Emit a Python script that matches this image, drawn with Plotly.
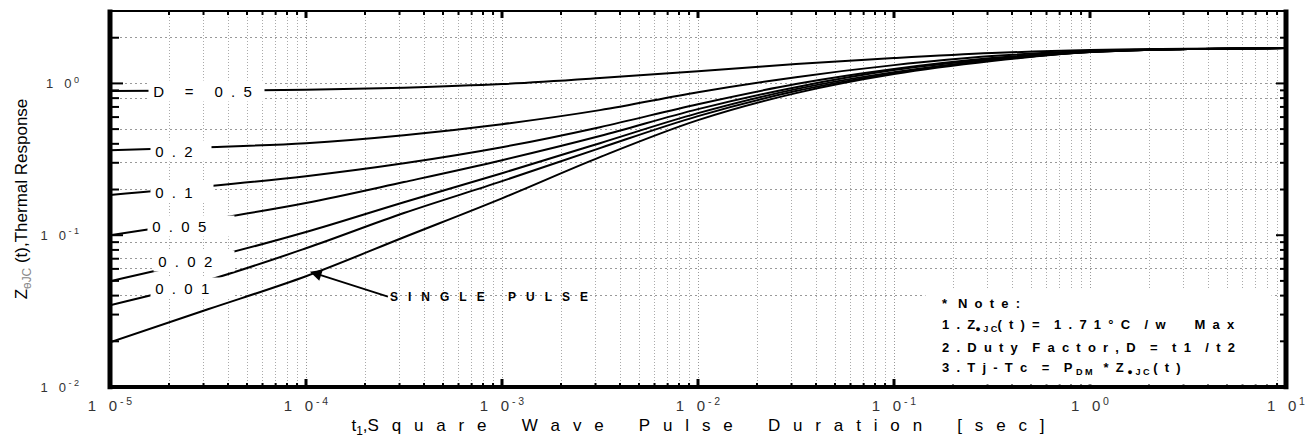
import math
import plotly.graph_objects as go

# ---------------- data ----------------
t = [1e-5, 3.16e-5, 1e-4, 3.16e-4, 1e-3, 3.16e-3, 1e-2, 3.16e-2, 1e-1, 3.16e-1, 1.0, 3.16, 10.0]
z_d050 = [0.890, 0.897, 0.910, 0.938, 0.990, 1.084, 1.205, 1.341, 1.468, 1.584, 1.658, 1.693, 1.71]
z_d020 = [0.363, 0.380, 0.404, 0.456, 0.539, 0.667, 0.876, 1.100, 1.320, 1.514, 1.633, 1.688, 1.71]
z_d010 = [0.184, 0.210, 0.245, 0.298, 0.380, 0.515, 0.730, 0.990, 1.243, 1.468, 1.620, 1.683, 1.71]
z_d005 = [0.100, 0.126, 0.163, 0.224, 0.312, 0.450, 0.677, 0.945, 1.224, 1.446, 1.620, 1.683, 1.71]
z_d002 = [0.0498, 0.0705, 0.105, 0.165, 0.256, 0.404, 0.637, 0.917, 1.187, 1.424, 1.608, 1.683, 1.71]
z_d001 = [0.0346, 0.0505, 0.082, 0.140, 0.227, 0.375, 0.609, 0.890, 1.169, 1.424, 1.608, 1.683, 1.71]
z_single = [0.0197, 0.0325, 0.0537, 0.097, 0.175, 0.327, 0.573, 0.863, 1.152, 1.403, 1.608, 1.683, 1.71]

series = [("D = 0.5", z_d050), ("0.2", z_d020), ("0.1", z_d010), ("0.05", z_d005),
          ("0.02", z_d002), ("0.01", z_d001), ("SINGLE PULSE", z_single)]

x_decades = [1e-5, 1e-4, 1e-3, 1e-2, 1e-1, 1e0, 1e1]
x_exps = ["-5", "-4", "-3", "-2", "-1", "0", "1"]
y_decades = [1e-2, 1e-1, 1e0]
y_exps = ["-2", "-1", "0"]
x_minor = [m * d for d in [1e-5, 1e-4, 1e-3, 1e-2, 1e-1, 1e0] for m in range(2, 10)]
y_minor = [m * d for d in [1e-2, 1e-1] for m in range(2, 10)] + [2.0]
y_grid = [0.04, 0.06, 0.07, 0.09, 0.2, 0.3, 0.5, 0.8, 1.0, 2.0]

NB = "\u00a0"
THIN = "\u2009"
FONT = "Arial, Liberation Sans, sans-serif"

XR = [-5, 1]
YR = [-2, 0.4771]
PLOT_W, PLOT_H = 1176, 376


def spaced(s, gap=NB * 2, space=NB * 2):
    return gap.join(space if c == " " else c for c in s)


x_ticktext = ["1" + NB * 3 + "0<sup>" + NB + spaced(e, NB) + "</sup>" for e in x_exps]
y_ticktext = ["1" + NB * 3 + "0<sup>" + NB + spaced(e, NB) + "</sup>" for e in y_exps]

fig = go.Figure()
for name, z in series:
    fig.add_trace(go.Scatter(x=t, y=z, mode="lines", name=name, showlegend=False,
                             line=dict(color="black", width=2, shape="spline", smoothing=1.0),
                             hoverinfo="skip"))
# invisible trace so the grid-only overlay axis is drawn
fig.add_trace(go.Scatter(x=[None], y=[None], xaxis="x", yaxis="y2", showlegend=False, hoverinfo="skip"))

fig.update_layout(
    width=1311, height=448,
    margin=dict(l=110, r=25, t=11, b=61),
    paper_bgcolor="white", plot_bgcolor="white",
    font=dict(family=FONT, color="black"),
    xaxis=dict(
        type="log", range=XR, showline=False, ticks="",
        tickvals=x_decades, ticktext=x_ticktext, tickfont=dict(size=15, color="#333"),
        ticklabelstandoff=8,
        showgrid=True, gridcolor="#999", griddash="1px,2px", gridwidth=1, zeroline=False,
        minor=dict(tickvals=x_minor, ticks="", showgrid=True, gridcolor="#aaa", griddash="1px,2px", gridwidth=1),
        title=dict(text="t<sub>1</sub>," + spaced("Square Wave Pulse Duration [sec]", NB * 2 + THIN, NB * 2),
                   font=dict(size=17, color="black"), standoff=6),
        automargin=False,
    ),
    yaxis=dict(
        type="log", range=YR, showline=False, ticks="",
        tickvals=y_decades, ticktext=y_ticktext, tickfont=dict(size=13, color="#333"),
        ticklabelstandoff=30,
        showgrid=False, zeroline=False,
        title=dict(text="Z<sub><span style='color:#888'>\u04e9JC</span></sub> (t),Thermal Response",
                   font=dict(size=17, color="black"), standoff=8),
        automargin=False,
    ),
    yaxis2=dict(
        type="log", range=YR, overlaying="y", anchor="x", side="left",
        tickvals=y_grid, showticklabels=False, ticks="", showline=False,
        showgrid=True, gridcolor="#999", griddash="2px,3px", gridwidth=1, zeroline=False,
    ),
)


# ---- frame and tick marks as paper-referenced shapes (positions derived from the tick values) ----
def xpaper(v):
    return (math.log10(v) - XR[0]) / (XR[1] - XR[0])


def ypaper(v):
    return (math.log10(v) - YR[0]) / (YR[1] - YR[0])


shapes = []


def seg(x0, y0, x1, y1, w):
    shapes.append(dict(type="line", xref="paper", yref="paper", x0=x0, y0=y0, x1=x1, y1=y1,
                       line=dict(color="black", width=w), layer="above"))


for v in x_decades[1:-1]:
    p = xpaper(v)
    seg(p, 0, p, 8 / PLOT_H, 3)          # bottom major
    seg(p, 1, p, 1 - 7 / PLOT_H, 3)      # top major
for v in x_minor:
    p = xpaper(v)
    seg(p, 0, p, 4 / PLOT_H, 2)          # bottom minor
    seg(p, 1, p, 1 - 4 / PLOT_H, 2)      # top minor
for v in y_decades[1:]:
    p = ypaper(v)
    seg(0, p, 13 / PLOT_W, p, 2)         # left major
    seg(1, p, 1 - 10 / PLOT_W, p, 2)     # right major
for v in y_minor:
    p = ypaper(v)
    seg(0, p, 9 / PLOT_W, p, 2)          # left minor
    seg(1, p, 1 - 6 / PLOT_W, p, 2)      # right minor

seg(0, 0, 1, 0, 4)      # bottom axis
seg(0, 1, 1, 1, 2)      # top border
seg(0, -0.006, 0, 1.004, 5)   # left axis
seg(1, -0.006, 1, 1.004, 5)   # right border
fig.update_layout(shapes=shapes)

# curve labels with white boxes (x in log10 units, anchored at box left)
labels = [
    ("D = 0.5", -4.806, -0.051, 115),
    ("0.2", -4.796, -0.446, 60),
    ("0.1", -4.796, -0.717, 62),
    ("0.05", -4.811, -0.941, 86),
    ("0.02", -4.781, -1.171, 80),
    ("0.01", -4.796, -1.349, 83),
]
for txt, lx, ly, w in labels:
    fig.add_annotation(x=lx, y=ly, xref="x", yref="y", text=NB + spaced(txt, NB * 2, NB), showarrow=False,
                       xanchor="left", yanchor="middle", width=w, height=20, align="left",
                       bgcolor="white", borderpad=0, font=dict(size=15, color="black"))

# single pulse arrow
fig.add_annotation(x=-3.98, y=-1.24, xref="x", yref="y", text="<b>" + spaced("SINGLE PULSE", NB * 3, NB) + "</b>",
                   showarrow=True, arrowhead=2, arrowsize=1.3, arrowwidth=1.8, arrowcolor="black",
                   ax=78, ay=25, axref="pixel", ayref="pixel", xanchor="left", yanchor="middle",
                   font=dict(size=12, color="black"))

# note box
fig.add_annotation(x=(925 - 110) / 1176, y=(386.7 - 288) / 376, xref="paper", yref="paper",
                   text=NB, showarrow=False, xanchor="left", yanchor="top", width=345, height=95,
                   bgcolor="white", borderpad=0)
G = NB * 2
note_lines = [
    "<b>*" + NB * 3 + spaced("Note:", G, "") + "</b>",
    "<b>" + spaced("1.Z", G, "") + "</b><sub>\u25cf" + NB + "<b>" + spaced("JC", NB) + "</b></sub><b>"
    + spaced("(t)= 1.71", G, "") + G + "°" + G + spaced("C /w", G, "") + NB * 8 + spaced("Max", G, "") + "</b>",
    "<b>" + spaced("2.Duty Factor,D = t1 /t2", G, "") + "</b>",
    "<b>" + spaced("3.Tj-Tc = P", G, "") + NB + "</b><sub><b>" + spaced("DM", NB) + "</b></sub><b>" + G + NB
    + spaced("*Z", G, "") + NB + "</b><sub>\u25cf" + NB + "<b>" + spaced("JC", NB) + "</b></sub><b>" + NB
    + spaced("(t)", G, "") + "</b>",
]
note_y = [303, 325, 347, 368]
for line, py in zip(note_lines, note_y):
    fig.add_annotation(x=(940 - 110) / 1176, y=(386.7 - py) / 376, xref="paper", yref="paper",
                       text=line, showarrow=False, xanchor="left", yanchor="middle",
                       font=dict(size=13, color="black"))

fig.write_html("out.html")
